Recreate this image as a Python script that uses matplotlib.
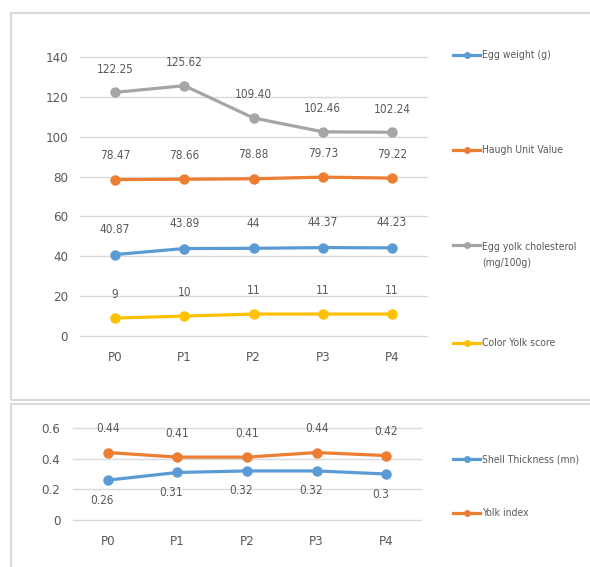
import matplotlib.pyplot as plt
from matplotlib.lines import Line2D
from matplotlib.patches import Rectangle

# fonts / style
plt.rc("font", family=["DejaVu Sans"], size=9)
plt.rcParams["font.stretch"] = "condensed"

txt_col = "#595959"
grid_col = "#D9D9D9"
blue, orange, gray, yellow = "#5B9BD5", "#ED7D31", "#A5A5A5", "#FFC000"

# data
groups = ["P0", "P1", "P2", "P3", "P4"]
egg_weight = [40.87, 43.89, 44, 44.37, 44.23]
haugh_unit = [78.47, 78.66, 78.88, 79.73, 79.22]
yolk_cholesterol = [122.25, 125.62, 109.40, 102.46, 102.24]
color_yolk = [9, 10, 11, 11, 11]
shell_thickness = [0.26, 0.31, 0.32, 0.32, 0.3]
yolk_index = [0.44, 0.41, 0.41, 0.44, 0.42]

W, H = 590, 567
fig = plt.figure(figsize=(W / 100, H / 100), dpi=100)


def fx(px):
    return px / W


def fy(py):
    return 1 - py / H


# panel frames
fig.patches.append(Rectangle((fx(11), fy(400)), fx(600 - 11), fy(13) - fy(400),
                             transform=fig.transFigure, fill=False, ec=grid_col, lw=1.5))
fig.patches.append(Rectangle((fx(11), fy(580)), fx(600 - 11), fy(404) - fy(580),
                             transform=fig.transFigure, fill=False, ec=grid_col, lw=1.5))


def style(ax, ylim, ticks):
    ax.set_ylim(*ylim)
    ax.set_xlim(-0.5, len(groups) - 0.5)
    ax.set_yticks(ticks)
    ax.set_yticklabels([f"{t:g}" for t in ticks])
    ax.set_xticks(range(len(groups)))
    ax.set_xticklabels(groups)
    for s in ax.spines.values():
        s.set_visible(False)
    ax.tick_params(length=0, colors=txt_col, labelsize=9.5, pad=9)
    ax.tick_params(axis="x", pad=11)
    for t in ticks:
        ax.axhline(t, color=grid_col, lw=1, zorder=0, clip_on=False)


def series(ax, vals, col, labels, dy, dx=0):
    x = range(len(vals))
    ax.plot(x, vals, color=col, lw=2.3, marker="o", ms=6.5, zorder=3)
    for xi, v, lab in zip(x, vals, labels):
        ax.annotate(lab, (xi, v), xytext=(dx, dy), textcoords="offset pixels",
                    ha="center", va="center", color=txt_col, fontsize=8.5)


def legend_entry(y, col, label, ty=None):
    fig.add_artist(Line2D([fx(453), fx(480)], [fy(y), fy(y)], color=col, lw=2.3,
                          transform=fig.transFigure))
    fig.add_artist(Line2D([fx(466.5)], [fy(y)], color=col, marker="o", ms=4,
                          transform=fig.transFigure))
    fig.text(fx(482), fy(y if ty is None else ty), label, ha="left", va="center",
             color=txt_col, fontsize=7.5, linespacing=1.75)


# top chart
ax1 = fig.add_axes([fx(80.5), fy(336), fx(426.6 - 80.5), fy(57) - fy(336)])
style(ax1, (0, 140), [0, 20, 40, 60, 80, 100, 120, 140])
series(ax1, egg_weight, blue, [f"{v:g}" for v in egg_weight], 25)
series(ax1, haugh_unit, orange, [f"{v:.2f}" for v in haugh_unit], 24)
series(ax1, yolk_cholesterol, gray, [f"{v:.2f}" for v in yolk_cholesterol], 23)
series(ax1, color_yolk, yellow, [f"{v:g}" for v in color_yolk], 24)

legend_entry(55, blue, "Egg weight (g)")
legend_entry(150, orange, "Haugh Unit Value")
legend_entry(245, gray, "Egg yolk cholesterol\n(mg/100g)", ty=255)
legend_entry(343, yellow, "Color Yolk score")

# bottom chart
ax2 = fig.add_axes([fx(73), fy(520), fx(421 - 73), fy(428) - fy(520)])
style(ax2, (0, 0.6), [0, 0.2, 0.4, 0.6])
series(ax2, shell_thickness, blue, [f"{v:g}" for v in shell_thickness], -20, -6)
series(ax2, yolk_index, orange, [f"{v:g}" for v in yolk_index], 24)

legend_entry(459, blue, "Shell Thickness (mn)")
legend_entry(513, orange, "Yolk index")

fig.savefig("out.png", dpi=100)
